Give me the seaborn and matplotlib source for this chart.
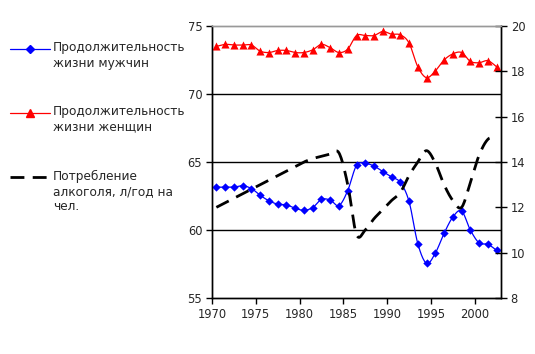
import numpy as np
import matplotlib
matplotlib.use("Agg")
from matplotlib import pyplot as plt
from matplotlib.lines import Line2D
import seaborn as sns

years = np.arange(1970, 2003)

male_life = [63.15, 63.15, 63.15, 63.25, 63.05, 62.55, 62.15, 61.9, 61.85, 61.6,
             61.45, 61.65, 62.25, 62.2, 61.8, 62.9, 64.75, 64.9, 64.7, 64.3,
             63.9, 63.5, 62.1, 59.0, 57.55, 58.3, 59.75, 60.95, 61.4, 60.0,
             59.05, 58.95, 58.5]

female_life = [73.5, 73.65, 73.6, 73.6, 73.6, 73.15, 73.05, 73.2, 73.2, 73.05,
               73.05, 73.25, 73.65, 73.4, 73.05, 73.3, 74.3, 74.3, 74.3, 74.6,
               74.4, 74.35, 73.75, 72.0, 71.2, 71.7, 72.5, 72.95, 73.05, 72.4,
               72.3, 72.45, 72.0]

alcohol = [12.0, 12.2, 12.4, 12.6, 12.8, 13.0, 13.2, 13.4, 13.6, 13.8,
           14.0, 14.15, 14.25, 14.35, 14.4, 13.0, 10.8, 11.0, 11.5, 11.9,
           12.3, 12.65, 13.4, 14.0, 14.5, 13.95, 13.0, 12.3, 12.0, 13.1,
           14.3, 15.0, 15.1]

labels = ["Продолжительность\nжизни мужчин",
          "Продолжительность\nжизни женщин",
          "Потребление\nалкоголя, л/год на\nчел."]


def smooth(x, y, n=12):
    # catmull-rom style curve like excel "smoothed line"
    x = np.asarray(x, float)
    y = np.asarray(y, float)
    px = np.concatenate([[x[0]], x, [x[-1]]])
    py = np.concatenate([[y[0]], y, [y[-1]]])
    xs, ys = [], []
    t = np.linspace(0, 1, n, endpoint=False)
    for i in range(1, len(px) - 2):
        p0, p1, p2, p3 = py[i - 1], py[i], py[i + 1], py[i + 2]
        q0, q1, q2, q3 = px[i - 1], px[i], px[i + 1], px[i + 2]
        c1, c2 = p1 + (p2 - p0) / 6, p2 - (p3 - p1) / 6
        d1, d2 = q1 + (q2 - q0) / 6, q2 - (q3 - q1) / 6
        b = [(1 - t) ** 3, 3 * (1 - t) ** 2 * t, 3 * (1 - t) * t ** 2, t ** 3]
        ys.append(b[0] * p1 + b[1] * c1 + b[2] * c2 + b[3] * p2)
        xs.append(b[0] * q1 + b[1] * d1 + b[2] * d2 + b[3] * q2)
    xs.append([x[-1]])
    ys.append([y[-1]])
    return np.concatenate(xs), np.concatenate(ys)


sns.set_style("white")
plt.rcParams['font.family'] = ['DejaVu Sans']
plt.rcParams['font.size'] = 8

W, H = 535, 354
fig = plt.figure(figsize=(W / 100, H / 100), dpi=100)
ax = fig.add_axes([212 / W, 1 - 298 / H, (501 - 212) / W, (298 - 26) / H])
ax2 = ax.twinx()

x = years + 0.5  # points sit in the middle of each year

mx, my = smooth(x, male_life)
sns.lineplot(x=mx, y=my, ax=ax, color="#0000ff", lw=0.9, sort=False, estimator=None)
sns.scatterplot(x=x, y=male_life, ax=ax, color="#0000ff", marker="D", s=18,
                linewidth=0, zorder=3)

fx, fy = smooth(x, female_life)
sns.lineplot(x=fx, y=fy, ax=ax, color="#ff0000", lw=0.9, sort=False, estimator=None)
sns.scatterplot(x=x, y=female_life, ax=ax, color="#ff0000", marker="^", s=34,
                linewidth=0, zorder=3)

ax_, ay = smooth(x, alcohol)
sns.lineplot(x=ax_, y=ay, ax=ax2, color="black", lw=2, sort=False, estimator=None,
             dashes=False)
ax2.lines[-1].set_dashes((5, 3))

ax.set_xlim(1970, 2003)
ax.set_ylim(55, 75)
ax2.set_ylim(8, 20)
ax.set_xticks(range(1970, 2001, 5))
ax.set_yticks(range(55, 76, 5))
ax2.set_yticks(range(8, 21, 2))
for v in (60, 65, 70):
    ax.axhline(v, color="black", lw=1, zorder=1)

ax.tick_params(axis="both", direction="out", length=4, width=1, color="black",
               labelsize=8.3, pad=3, left=True, bottom=True)
ax2.tick_params(axis="y", direction="inout", length=8, width=1, color="black",
                labelsize=8.3, pad=3, right=True)
ax.set_xlabel("")
ax.set_ylabel("")
ax2.set_ylabel("")

for a in (ax, ax2):
    for s in a.spines.values():
        s.set_color("black")
        s.set_linewidth(1)
    a.spines["top"].set_color("#999999")

# legend drawn by hand so the handle sits at the first text line
handles = [("#0000ff", "-", "D", 4, 49),
           ("#ff0000", "-", "^", 6, 113),
           ("black", "--", None, 0, 177.5)]
for (col, ls, mk, ms, yy), lab in zip(handles, labels):
    yf = 1 - yy / H
    if ls == "--":
        ln = Line2D([10 / W, 50 / W], [yf, yf], transform=fig.transFigure,
                    color=col, lw=2)
        ln.set_dashes((5, 3))
    else:
        ln = Line2D([10 / W, 50 / W], [yf, yf], transform=fig.transFigure,
                    color=col, lw=0.9)
    fig.add_artist(ln)
    if mk:
        fig.add_artist(Line2D([30 / W], [yf], transform=fig.transFigure,
                              color=col, marker=mk, ms=ms, lw=0))
    fig.text(53 / W, 1 - (yy - 7.5) / H, lab, ha="left", va="top", fontsize=8.7,
             linespacing=1.2)

fig.savefig("out.png", dpi=100)
